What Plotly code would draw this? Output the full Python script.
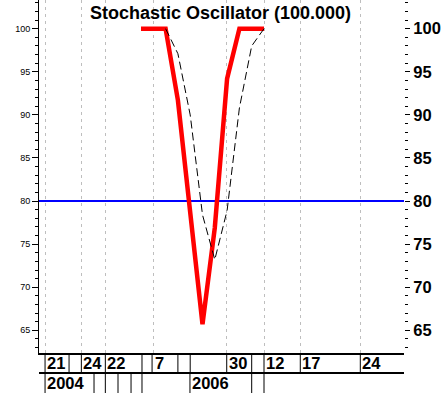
import plotly.graph_objects as go

# ---- data ----
bar_index = [0, 1, 2, 3, 4, 5, 6, 7, 8, 9, 10]
pct_k = [100, 100, 100, 91.7, 78.7, 65.7, 76.9, 94.2, 100, 100, 100]
pct_d = [None, None, 100, 97.1, 90.0, 78.4, 73.2, 78.9, 90.8, 98.0, 100]
signal_level = 80
y_ticks = [65, 70, 75, 80, 85, 90, 95, 100]

day_labels = ["21", "24", "22", "7", "30", "12", "17", "24"]
day_label_at = [-7.8, -4.85, -2.9, 1.0, 6.97, 10.0, 12.95, 17.83]
day_separators = [-7.8, -5.85, -4.85, -2.9, 0.08, 0.9, 3.0, 4.0, 6.97, 9.0, 10.0, 12.95, 17.83]
year_labels = ["2004", "2006"]
year_label_at = [-7.8, 3.98]
year_separators = [-7.8, -3.82, -2.9, -1.87, -0.81, 0.08, 3.98, 9.0, 10.0]

# ---- layout constants ----
W, H = 442, 393
ML, MR, MT, MB = 39, 38, 0, 40
PLOT_H = H - MT - MB
X_RANGE = [-8.293, 21.382]
Y_RANGE = [62.37, 103.33]
FONT = "Liberation Sans, Arial, sans-serif"


def py(pix):
    """pixel row below the plot -> paper y"""
    return (PLOT_H - (pix - MT)) / PLOT_H


fig = go.Figure()
fig.add_trace(go.Scatter(x=bar_index, y=pct_k, mode="lines",
                         line=dict(color="#FF0000", width=4.5), yaxis="y"))
fig.add_trace(go.Scatter(x=bar_index, y=pct_d, mode="lines",
                         line=dict(color="black", width=1, dash="8px,4px"), yaxis="y2"))

shapes = [dict(type="line", xref="paper", x0=0, x1=1, yref="y", y0=signal_level, y1=signal_level,
               line=dict(color="#0000FF", width=2), layer="below")]
row1_top, row1_bot, row2_bot = py(353), py(373), py(393)
for s in day_separators:
    shapes.append(dict(type="line", xref="x", x0=s, x1=s, yref="paper", y0=row1_top, y1=row1_bot,
                       line=dict(color="black", width=1)))
for s in year_separators:
    shapes.append(dict(type="line", xref="x", x0=s, x1=s, yref="paper", y0=row1_bot, y1=row2_bot,
                       line=dict(color="black", width=1)))
shapes.append(dict(type="line", xref="paper", x0=0, x1=1, yref="paper", y0=row1_bot, y1=row1_bot,
                   line=dict(color="black", width=2)))

annotations = []
for t, x in zip(day_labels, day_label_at):
    annotations.append(dict(text=t, x=x, xref="x", y=py(363), yref="paper", xanchor="left",
                            yanchor="middle", showarrow=False, xshift=0,
                            font=dict(family=FONT, size=16.5, color="black", weight="bold")))
for t, x in zip(year_labels, year_label_at):
    annotations.append(dict(text=t, x=x, xref="x", y=py(383), yref="paper", xanchor="left",
                            yanchor="middle", showarrow=False, xshift=0,
                            font=dict(family=FONT, size=16.5, color="black", weight="bold")))

fig.update_layout(
    width=W, height=H,
    margin=dict(l=ML, r=MR, t=MT, b=MB, pad=0, autoexpand=False),
    paper_bgcolor="white", plot_bgcolor="white",
    showlegend=False,
    title=dict(text="Stochastic Oscillator (100.000)", xref="container", x=0.499, xanchor="center",
               yref="container", y=1 - 13 / H, yanchor="middle",
               font=dict(family=FONT, size=18, color="black", weight="bold")),
    xaxis=dict(range=X_RANGE, tickmode="array", tickvals=day_label_at, showticklabels=False,
               ticks="", showgrid=True, gridcolor="#BEBEBE", gridwidth=1, griddash="3px,4px",
               showline=True, linecolor="black", linewidth=2, zeroline=False, fixedrange=True,
               automargin=False),
    yaxis=dict(range=Y_RANGE, tickmode="array", tickvals=y_ticks, ticks="outside", ticklen=6,
               tickcolor="black", tickwidth=1, showline=True, linecolor="black", linewidth=1,
               showgrid=False, zeroline=False, automargin=False,
               tickfont=dict(family=FONT, size=9, color="black"),
               minor=dict(dtick=1, tick0=0, ticks="outside", ticklen=3, tickcolor="black",
                          tickwidth=1, showgrid=False)),
    yaxis2=dict(range=Y_RANGE, overlaying="y", side="right", tickmode="array", tickvals=y_ticks,
                ticks="outside", ticklen=5, tickcolor="black", tickwidth=1, showline=False,
                showgrid=False, zeroline=False, automargin=False,
                tickfont=dict(family=FONT, size=16.5, color="black", weight="bold"),
                minor=dict(dtick=1, tick0=0, ticks="outside", ticklen=3, tickcolor="black",
                           tickwidth=1, showgrid=False)),
    shapes=shapes,
    annotations=annotations,
)

fig.write_html("out.html", config={"displayModeBar": False},
               post_script="document.body.style.margin='0';document.body.style.overflow='hidden';")
